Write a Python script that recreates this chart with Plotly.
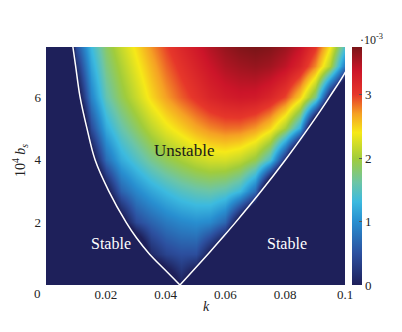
import plotly.graph_objects as go

# growth rate map, values in units of 1e-3 (negative = stable, clipped to navy)
k_vals = [0.0, 0.005, 0.01, 0.015, 0.02, 0.025, 0.03, 0.035, 0.04, 0.045, 0.05,
          0.055, 0.06, 0.065, 0.07, 0.075, 0.08, 0.085, 0.09, 0.095, 0.1]
b_vals = [0, 1, 2, 3, 4, 5, 6, 7, 7.6]

rate_b0 = [-2, -2, -2, -2, -2, -2, -2, -1.1, -0.55, 0, -0.55, -1.1, -2, -2, -2, -2, -2, -2, -2, -2, -2]
rate_b1 = [-2, -2, -2, -2, -2, -1.7, -0.9, 0.1, 0.37, 0.48, 0.47, -0.08, -0.7, -1.6, -2, -2, -2, -2, -2, -2, -2]
rate_b2 = [-2, -2, -2, -2, -1.0, -0.24, 0.43, 0.65, 0.83, 0.94, 1.0, 0.95, 0.67, -0.32, -1.1, -2, -2, -2, -2, -2, -2]
rate_b3 = [-2, -2, -2, -1.1, -0.16, 0.64, 0.94, 1.16, 1.33, 1.47, 1.56, 1.6, 1.52, 1.31, 0.72, -1.08, -2, -2, -2, -2, -2]
rate_b4 = [-2, -2, -1.4, -0.28, 0.72, 1.19, 1.44, 1.69, 1.88, 2.02, 2.15, 2.23, 2.24, 2.14, 1.92, 1.4, 0.1, -1.6, -2, -2, -2]
rate_b5 = [-2, -2, -1.22, 0.43, 1.2, 1.58, 1.85, 2.12, 2.34, 2.5, 2.66, 2.77, 2.84, 2.83, 2.72, 2.49, 2.02, 1.2, -1.02, -2, -2]
rate_b6 = [-2, -1.5, -0.35, 0.9, 1.56, 1.9, 2.18, 2.47, 2.7, 2.89, 3.05, 3.2, 3.29, 3.34, 3.32, 3.19, 2.96, 2.51, 1.74, -0.1, -1.2]
rate_b7 = [-2, -1.5, 0.14, 1.16, 1.74, 2.06, 2.35, 2.62, 2.87, 3.06, 3.23, 3.38, 3.51, 3.58, 3.62, 3.57, 3.44, 3.2, 2.77, 2.06, 0.8]
rate_b76 = [-3, -1.8, 0.45, 1.31, 1.84, 2.17, 2.45, 2.73, 2.97, 3.17, 3.33, 3.49, 3.62, 3.71, 3.75, 3.71, 3.6, 3.4, 3.04, 2.4, 1.39]

# neutral stability curve
edge_b = [7.6, 7.0, 6.0, 5.0, 4.0, 3.0, 2.0, 1.5, 1.0, 0.5, 0.0]
edge_k_left = [0.0090, 0.0099, 0.0114, 0.0137, 0.0164, 0.0210, 0.0268, 0.0303, 0.0345, 0.0396, 0.0448]
edge_k_right = [0.1030, 0.1012, 0.0948, 0.0877, 0.0801, 0.0720, 0.0634, 0.0589, 0.0543, 0.0496, 0.0448]

x_ticks = [0.02, 0.04, 0.06, 0.08, 0.1]
x_ticktext = ["0.02", "0.04", "0.06", "0.08", "0.1"]
y_ticks = [2, 4, 6]
cb_ticks = [0, 1, 2, 3]

z = [rate_b0, rate_b1, rate_b2, rate_b3, rate_b4, rate_b5, rate_b6, rate_b7, rate_b76]

cscale = [
    [0.0, "#1e205a"],
    [0.13, "#2c4f9e"],
    [0.267, "#288fd0"],
    [0.35, "#3cbadf"],
    [0.43, "#6cc5a6"],
    [0.53, "#a0cc3c"],
    [0.64, "#f6e918"],
    [0.72, "#f5a024"],
    [0.8, "#e6372a"],
    [0.9, "#cc1529"],
    [1.0, "#7a1518"],
]

SERIF = "Liberation Serif"

fig = go.Figure()
fig.add_trace(go.Contour(
    x=k_vals, y=b_vals, z=z,
    colorscale=cscale, zmin=0, zmax=3.75,
    contours=dict(coloring="heatmap", showlines=False),
    line=dict(width=0),
    colorbar=dict(x=1.023, xanchor="left", thickness=10, len=1, y=0.5,
                  xpad=0, ypad=0,
                  tickvals=cb_ticks, ticks="inside", ticklen=3, tickcolor="#555",
                  outlinewidth=0, tickfont=dict(family=SERIF, size=13, color="#222")),
    hoverinfo="skip",
))
fig.add_trace(go.Scatter(x=edge_k_left, y=edge_b, mode="lines",
                         line=dict(color="white", width=1.5, shape="spline"),
                         showlegend=False))
fig.add_trace(go.Scatter(x=edge_k_right, y=edge_b, mode="lines",
                         line=dict(color="white", width=1.5, shape="spline"),
                         showlegend=False))

fig.add_annotation(x=0.0462, y=4.31, text="Unstable", showarrow=False,
                   font=dict(family=SERIF, size=17, color="#1a1a1a"))
fig.add_annotation(x=0.0217, y=1.34, text="Stable", showarrow=False,
                   font=dict(family=SERIF, size=16, color="white"))
fig.add_annotation(x=0.0806, y=1.34, text="Stable", showarrow=False,
                   font=dict(family=SERIF, size=16, color="white"))

# axis titles and corner label
fig.add_annotation(xref="paper", yref="paper", x=0.538, y=-0.092, text="<i>k</i>",
                   xanchor="center", yanchor="middle", showarrow=False,
                   font=dict(family=SERIF, size=14, color="#222"))
fig.add_annotation(xref="paper", yref="paper", x=-0.087, y=0.525,
                   text="10<sup>4</sup> <i>b<sub>s</sub></i>", textangle=-90,
                   xanchor="center", yanchor="middle", showarrow=False,
                   font=dict(family=SERIF, size=14, color="#222"))
fig.add_annotation(xref="paper", yref="paper", x=-0.03, y=-0.034, text="0",
                   xanchor="center", yanchor="middle", showarrow=False,
                   font=dict(family=SERIF, size=13, color="#222"))
fig.add_annotation(xref="paper", yref="paper", x=1.043, y=0.99, xanchor="left",
                   yanchor="bottom", text="·10<sup>-3</sup>", showarrow=False,
                   font=dict(family=SERIF, size=12, color="#222"))

fig.update_xaxes(range=[0, 0.1], tickvals=x_ticks, ticktext=x_ticktext,
                 showgrid=False, zeroline=False, showline=False, ticks="",
                 tickfont=dict(family=SERIF, size=13, color="#222"))
fig.update_yaxes(range=[0, 7.6], tickvals=y_ticks, showgrid=False, zeroline=False,
                 showline=False, ticks="", ticklabelstandoff=4,
                 tickfont=dict(family=SERIF, size=13, color="#222"))
# page body adds an 8px offset, margins compensate for it
fig.update_layout(width=402, height=332, margin=dict(l=38, r=65, t=39, b=55),
                  plot_bgcolor="white", paper_bgcolor="white", showlegend=False)

fig.write_html("out.html")
